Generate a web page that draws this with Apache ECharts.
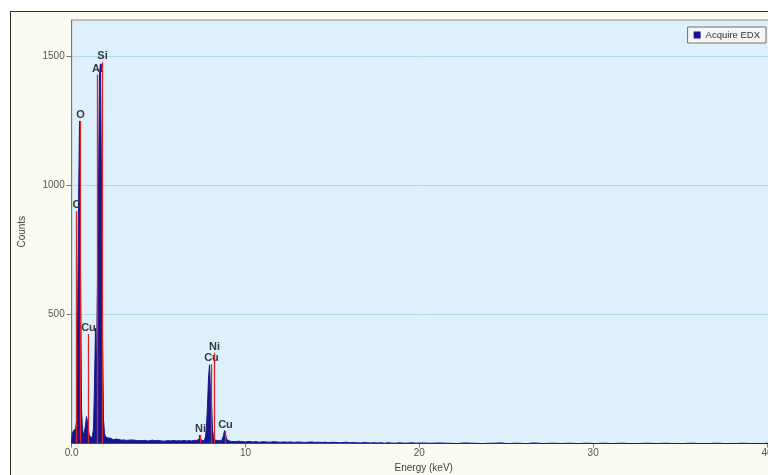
<!DOCTYPE html>
<html>
<head>
<meta charset="utf-8">
<script src="https://cdn.jsdelivr.net/npm/echarts@6/dist/echarts.min.js"></script>
<style>
  html, body { margin: 0; padding: 0; background: #ffffff; overflow: hidden; }
  #frame { position: absolute; left: 10px; top: 11px; width: 800px; height: 500px;
           border-left: 1px solid #333; border-top: 1px solid #333; background: #fbfbf1; }
  #chart { position: absolute; left: 0; top: 0; width: 768px; height: 475px; }
</style>
</head>
<body>
<div id="frame"></div>
<div id="chart"></div>
<script>
// ---- Data (energy keV, counts) ----
const lowEnergyPeaks = [
  [0.00, 0], [0.02, 25], [0.07, 40], [0.13, 50], [0.19, 55], [0.25, 62], [0.30, 85],
  [0.36, 375], [0.42, 905], [0.48, 1248], [0.54, 645], [0.59, 130], [0.65, 55],
  [0.71, 30], [0.77, 32], [0.82, 70], [0.88, 104], [0.94, 85], [1.00, 45], [1.05, 28],
  [1.11, 22], [1.17, 22], [1.23, 30], [1.28, 60], [1.34, 220], [1.40, 446], [1.45, 290],
  [1.51, 292], [1.57, 955], [1.63, 1430], [1.68, 1470], [1.74, 1062], [1.80, 427],
  [1.86, 91], [1.91, 42], [1.97, 26], [2.03, 22], [2.09, 28], [2.15, 29], [2.20, 20]
];
const backgroundFloor = [
  [2.3, 18], [2.4, 15], [2.5, 17], [2.6, 14], [2.7, 16], [2.8, 13], [2.9, 15], [3.0, 14],
  [3.1, 12], [3.2, 15], [3.3, 13], [3.4, 14], [3.5, 12], [3.6, 13], [3.7, 11], [3.8, 14],
  [3.9, 12], [4.0, 11], [4.1, 13], [4.2, 12], [4.3, 10], [4.4, 12], [4.5, 11], [4.6, 13],
  [4.7, 10], [4.8, 11], [4.9, 12], [5.0, 10], [5.1, 11], [5.2, 9], [5.3, 12], [5.4, 10],
  [5.5, 11], [5.6, 9], [5.7, 10], [5.8, 12], [5.9, 9], [6.0, 10], [6.1, 11], [6.2, 9],
  [6.3, 10], [6.4, 12], [6.5, 9], [6.6, 10], [6.7, 11], [6.8, 9], [6.9, 10], [7.0, 12],
  [7.1, 11], [7.2, 12]
];
const nickelCopperPeaks = [
  [7.26, 12], [7.32, 18], [7.38, 33], [7.44, 20], [7.50, 12], [7.56, 10], [7.62, 11],
  [7.68, 14], [7.72, 25], [7.78, 62], [7.84, 143], [7.90, 253], [7.96, 305], [8.01, 200],
  [8.07, 160], [8.13, 55], [8.19, 22], [8.26, 14], [8.35, 12], [8.45, 11], [8.55, 12],
  [8.64, 13], [8.70, 15], [8.76, 30], [8.82, 50], [8.88, 35], [8.94, 16], [9.02, 10],
  [9.10, 9]
];
const tailNear = [
  [9.2, 8], [9.4, 7], [9.6, 9], [9.8, 7], [10.0, 6], [10.2, 8], [10.4, 6], [10.6, 7],
  [10.8, 5], [11.0, 7], [11.2, 6], [11.4, 5], [11.6, 7], [11.8, 6], [12.0, 5], [12.2, 6],
  [12.4, 5], [12.6, 6], [12.8, 4], [13.0, 6], [13.2, 5], [13.4, 4], [13.6, 5], [13.8, 6],
  [14.0, 4], [14.2, 5], [14.4, 4], [14.6, 5], [14.8, 3], [15.0, 5], [15.2, 4], [15.4, 3],
  [15.6, 4], [15.8, 5], [16.0, 3], [16.2, 4], [16.4, 3], [16.6, 2], [16.8, 4], [17.0, 3],
  [17.2, 2], [17.4, 3], [17.6, 2], [17.8, 3], [18.0, 1], [18.2, 3], [18.4, 2], [18.6, 1],
  [18.8, 3], [19.0, 2], [19.2, 1], [19.4, 2], [19.6, 3], [19.8, 1], [20.0, 2]
];
const tailFar = [
  [20.5, 1], [21.0, 2], [21.5, 1], [22.0, 0], [22.5, 2], [23.0, 1], [23.5, 0], [24.0, 1],
  [24.5, 2], [25.0, 0], [25.5, 1], [26.0, 0], [26.5, 2], [27.0, 0], [27.5, 1], [28.0, 0],
  [28.5, 1], [29.0, 0], [29.5, 1], [30.0, 0], [30.5, 1], [31.0, 0], [31.5, 1], [32.0, 0],
  [32.5, 0], [33.0, 1], [33.5, 0], [34.0, 1], [34.5, 0], [35.0, 0], [35.5, 1], [36.0, 0],
  [36.5, 0], [37.0, 1], [37.5, 0], [38.0, 0], [38.5, 1], [39.0, 0], [39.5, 0], [40.0, 1],
  [40.5, 0]
];
// element marker lines
const markerElements = ['C', 'O', 'Cu', 'Al', 'Si', 'Ni', 'Cu', 'Ni', 'Cu'];
const markerEnergies = [0.25, 0.50, 0.92, 1.46, 1.73, 7.38, 7.99, 8.21, 8.84];
const markerHeights  = [900, 1249, 424, 1429, 1476, 33, 307, 351, 49];
// axis ticks
const yTicks = [500, 1000, 1500];
const xTicks = [0, 10, 20, 30, 40];
const xTickLabels = ['0.0', '10', '20', '30', '40'];

const spectrum = [].concat(lowEnergyPeaks, backgroundFloor, nickelCopperPeaks, tailNear, tailFar);
const markers = markerEnergies.map((e, i) => [e, markerHeights[i], markerElements[i]]);

const FONT = 'Liberation Sans, Arial, sans-serif';
const chart = echarts.init(document.getElementById('chart'), null, { renderer: 'canvas' });
chart.setOption({
  animation: false,
  backgroundColor: 'transparent',
  grid: {
    left: 71.7, top: 20, width: 704, bottom: 31.5,
    outerBoundsMode: 'none', containLabel: false,
    show: true, backgroundColor: '#ddf0fb', borderColor: '#8a8a8a', borderWidth: 1
  },
  legend: {
    right: 2, top: 27, padding: [3, 6, 3, 6],
    backgroundColor: '#f6f6f6', borderColor: '#707070', borderWidth: 1,
    itemWidth: 7, itemHeight: 7, itemGap: 4, icon: 'rect',
    textStyle: { fontFamily: FONT, fontSize: 9.5, color: '#333' },
    data: ['Acquire EDX']
  },
  xAxis: {
    type: 'value', min: 0, max: 40.5, interval: 10,
    name: 'Energy (keV)', nameLocation: 'middle', nameGap: 17,
    nameTextStyle: { fontFamily: FONT, fontSize: 10, color: '#444' },
    axisLine: { show: true, onZero: false, lineStyle: { color: '#777', width: 1 } },
    axisTick: { show: true, length: 4, customValues: xTicks, lineStyle: { color: '#777' } },
    axisLabel: {
      margin: 5, fontFamily: FONT, fontSize: 10, color: '#555', customValues: xTicks,
      formatter: v => { const i = xTicks.indexOf(Math.round(v)); return i >= 0 ? xTickLabels[i] : ''; }
    },
    splitLine: { show: false }
  },
  yAxis: {
    type: 'value', min: 0, max: 1640, interval: 500,
    name: 'Counts', nameLocation: 'middle', nameGap: 44,
    nameTextStyle: { fontFamily: FONT, fontSize: 10, color: '#444' },
    axisLine: { show: true, lineStyle: { color: '#777', width: 1 } },
    axisTick: { show: true, length: 5, customValues: yTicks, lineStyle: { color: '#777' } },
    axisLabel: {
      margin: 7, fontFamily: FONT, fontSize: 10, color: '#555', customValues: yTicks,
      formatter: v => yTicks.indexOf(v) >= 0 ? String(v) : ''
    },
    splitLine: { show: true, lineStyle: { color: '#a8dcee', width: 1 } }
  },
  series: [
    {
      name: 'Acquire EDX', type: 'line', data: spectrum,
      symbol: 'none', sampling: null, smooth: false, step: 'middle',
      lineStyle: { color: '#16168e', width: 1 },
      itemStyle: { color: '#16168e' },
      areaStyle: { color: '#16168e', opacity: 1 },
      z: 2
    },
    {
      name: 'markers', type: 'custom', data: markers, z: 3,
      encode: { x: 0, y: 1 },
      renderItem: function (params, api) {
        const e = api.value(0), h = api.value(1);
        const base = api.coord([e, 0]);
        const top = api.coord([e, h]);
        const x = Math.round(top[0]) + 0.5;
        return {
          type: 'group',
          children: [
            { type: 'line', shape: { x1: x, y1: base[1], x2: x, y2: top[1] },
              style: { stroke: '#e02424', lineWidth: 1.3 } },
            { type: 'text', style: {
                x: x, y: top[1] - 0.5, text: markers[params.dataIndex][2],
                align: 'center', verticalAlign: 'bottom',
                font: 'bold 11px ' + FONT, fill: '#3a3a3a' } }
          ]
        };
      }
    }
  ]
});
</script>
</body>
</html>
